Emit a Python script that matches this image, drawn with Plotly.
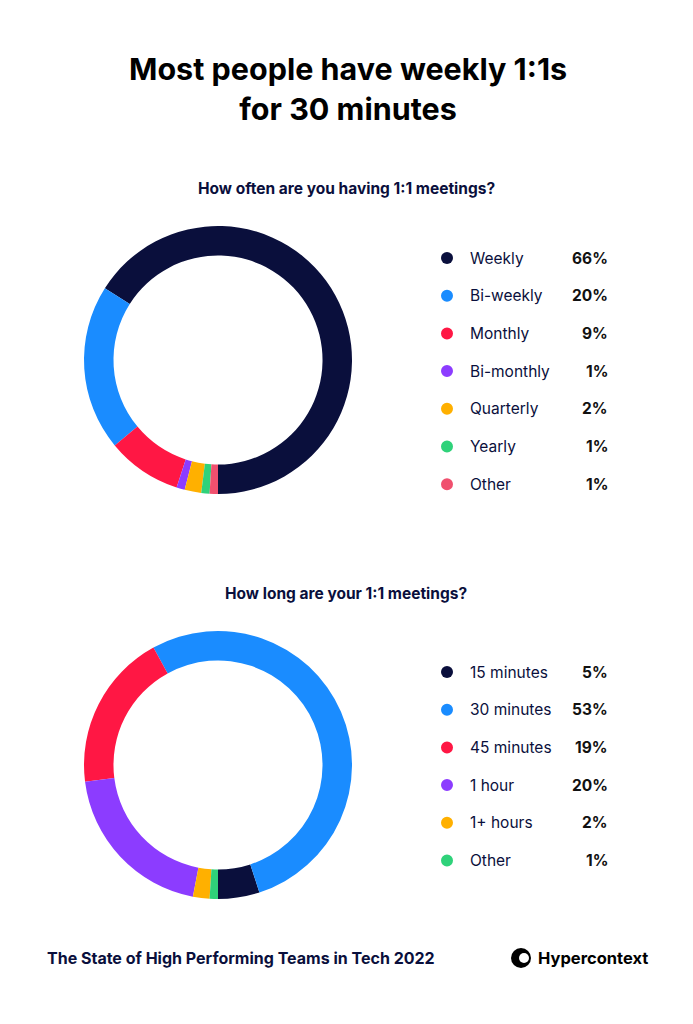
import plotly.graph_objects as go

W, H = 693, 1024
freq_labels = ["Weekly", "Bi-weekly", "Monthly", "Bi-monthly", "Quarterly", "Yearly", "Other"]
freq_values = [66, 20, 9, 1, 2, 1, 1]
freq_colors = ["#0a0f3c", "#1a8cff", "#ff1744", "#8c3cff", "#ffb000", "#2fd27a", "#f0506e"]

len_labels = ["15 minutes", "30 minutes", "45 minutes", "1 hour", "1+ hours", "Other"]
len_values = [5, 53, 19, 20, 2, 1]
len_colors = ["#0a0f3c", "#1a8cff", "#ff1744", "#8c3cff", "#ffb000", "#2fd27a"]

NAVY = "#0a0f3c"
FONT = "Inter"
OFF = 8  # page body margin

def px(x): return (x - OFF) / W
def py(y): return 1 - (y - OFF) / H

fig = go.Figure()
for labels, values, colors, top in [(freq_labels, freq_values, freq_colors, 226),
                                     (len_labels, len_values, len_colors, 631)]:
    rot = 180 - values[0] / sum(values) * 360
    fig.add_trace(go.Pie(labels=labels, values=values, hole=0.78, sort=False,
                         direction="counterclockwise", rotation=rot,
                         marker=dict(colors=colors, line=dict(width=0)),
                         textinfo="none", hoverinfo="label+percent", showlegend=False,
                         domain=dict(x=[px(84), px(352)], y=[py(top + 268), py(top)])))

ann = []
shapes = []
def legend(labels, values, colors, y0):
    for i, (l, v, c) in enumerate(zip(labels, values, colors)):
        y = y0 + i * 37.7
        shapes.append(dict(type="circle", xref="paper", yref="paper",
                           x0=px(441), x1=px(453), y0=py(y + 6), y1=py(y - 6),
                           fillcolor=c, line=dict(width=0)))
        ann.append(dict(x=px(468), y=py(y), xref="paper", yref="paper", text=l,
                        xanchor="left", yanchor="middle", showarrow=False,
                        font=dict(family=FONT, size=15.5, color=NAVY)))
        ann.append(dict(x=px(610), y=py(y), xref="paper", yref="paper", text=f"<b>{v}%</b>",
                        xanchor="right", yanchor="middle", showarrow=False,
                        font=dict(family=FONT, size=15.5, color="#111111")))

legend(freq_labels, freq_values, freq_colors, 258)
legend(len_labels, len_values, len_colors, 672)

ann += [
    dict(x=px(348), y=py(88), text="<b>Most people have weekly 1:1s<br>for 30 minutes</b>",
         font=dict(family=FONT, size=30.5, color="#000000")),
    dict(x=px(346), y=py(188), text="<b>How often are you having 1:1 meetings?</b>",
         font=dict(family=FONT, size=15.5, color=NAVY)),
    dict(x=px(346), y=py(593), text="<b>How long are your 1:1 meetings?</b>",
         font=dict(family=FONT, size=15.5, color=NAVY)),
    dict(x=px(45), y=py(958), text="<b>The State of High Performing Teams in Tech 2022</b>",
         xanchor="left", font=dict(family=FONT, size=16, color=NAVY)),
    dict(x=px(536), y=py(958), text="<b>Hypercontext</b>", xanchor="left",
         font=dict(family=FONT, size=16.5, color="#000000")),
]
for a in ann:
    a.setdefault("xref", "paper"); a.setdefault("yref", "paper")
    a.setdefault("showarrow", False); a.setdefault("yanchor", "middle")
shapes.append(dict(type="circle", xref="paper", yref="paper", x0=px(511), x1=px(531),
                   y0=py(968), y1=py(948), fillcolor="#000000", line=dict(width=0)))
shapes.append(dict(type="circle", xref="paper", yref="paper", x0=px(519), x1=px(529),
                   y0=py(963), y1=py(953), fillcolor="#ffffff", line=dict(width=0)))

fig.update_layout(width=W, height=H, margin=dict(l=0, r=0, t=0, b=0),
                  paper_bgcolor="white", plot_bgcolor="white",
                  annotations=ann, shapes=shapes)
fig.write_html("out.html")
